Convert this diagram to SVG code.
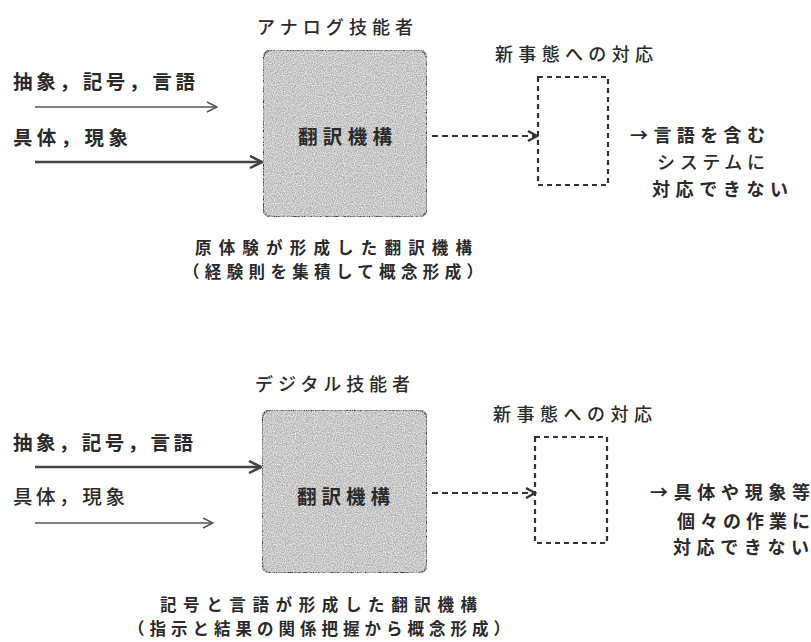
<svg xmlns="http://www.w3.org/2000/svg" width="811" height="642" viewBox="0 0 811 642">
<style>
text{font-family:"Noto Sans CJK JP","Noto Sans CJK SC",sans-serif;fill:#2a2a2a;font-size:18px;font-weight:700}
.title{font-weight:500}
.big{font-size:19.5px}
.cap{font-size:16.5px}
.box{fill:#c2c2c2;stroke:#333;stroke-width:2}
.dbox{fill:none;stroke:#333;stroke-width:2.2;stroke-dasharray:5 4}
.thin{stroke:#555;stroke-width:1.3;fill:none}
.thick{stroke:#444;stroke-width:2.6;fill:none}
.dash{stroke:#333;stroke-width:2;stroke-dasharray:6 4;fill:none}
</style>
<defs>
<marker id="open" viewBox="0 0 12 12" refX="11" refY="6" markerWidth="12" markerHeight="12" markerUnits="userSpaceOnUse" orient="auto">
<path d="M1,1 L11,6 L1,11" fill="none" stroke="#555" stroke-width="1.5"/>
</marker>
<marker id="bold" viewBox="0 0 14 14" refX="13" refY="7" markerWidth="14" markerHeight="14" markerUnits="userSpaceOnUse" orient="auto">
<path d="M1,1 L13,7 L1,13" fill="none" stroke="#444" stroke-width="2.5"/>
</marker>
<marker id="dopen" viewBox="0 0 12 12" refX="10" refY="6" markerWidth="12" markerHeight="12" markerUnits="userSpaceOnUse" orient="auto">
<path d="M1,1 L10,6 L1,11" fill="none" stroke="#333" stroke-width="2.2"/>
</marker>
<filter id="grain" x="0" y="0" width="100%" height="100%">
<feTurbulence type="fractalNoise" baseFrequency="0.8" numOctaves="2" seed="3" result="n"/>
<feColorMatrix in="n" type="matrix" values="0 0 0 0 0.35  0 0 0 0 0.35  0 0 0 0 0.35  0 0 0 2.2 -0.85" result="g"/>
<feComposite in="g" in2="SourceGraphic" operator="in" result="gi"/>
<feTurbulence type="fractalNoise" baseFrequency="0.9" numOctaves="1" seed="11" result="n2"/>
<feColorMatrix in="n2" type="matrix" values="0 0 0 0 0.95  0 0 0 0 0.95  0 0 0 0 0.95  0 0 0 2.2 -0.9" result="w"/>
<feComposite in="w" in2="SourceGraphic" operator="in" result="wi"/>
<feMerge><feMergeNode in="SourceGraphic"/><feMergeNode in="gi"/><feMergeNode in="wi"/></feMerge>
</filter>
</defs>

<g id="connectors">
<line class="thin" x1="35" y1="107" x2="217" y2="107" marker-end="url(#open)"/>
<line class="thick" x1="35" y1="162" x2="262" y2="162" marker-end="url(#bold)"/>
<line class="dash" x1="432" y1="136" x2="537" y2="136" marker-end="url(#dopen)"/>
<line class="thick" x1="35" y1="467" x2="261" y2="467" marker-end="url(#bold)"/>
<line class="thin" x1="35" y1="523" x2="213" y2="523" marker-end="url(#open)"/>
<line class="dash" x1="432" y1="493" x2="535" y2="493" marker-end="url(#dopen)"/>
</g>

<g id="analog-title"><text class="title" x="257" y="34" textLength="156">アナログ技能者</text></g>
<g id="analog-in1"><text class="big" x="13" y="89" textLength="182">抽象，記号，言語</text></g>
<g id="analog-in2"><text class="big" x="13" y="145" textLength="115">具体，現象</text></g>
<g id="analog-box">
<rect class="box" x="263" y="50" width="164" height="167" rx="9" filter="url(#grain)"/>
<text class="big" x="298" y="144" textLength="94" fill="#333">翻訳機構</text>
</g>
<g id="analog-new">
<text class="title" x="495" y="61" textLength="158">新事態への対応</text>
<rect class="dbox" x="538" y="77" width="70" height="108"/>
</g>
<g id="analog-result">
<text x="630" y="142" textLength="135">→言語を含む</text>
<text class="title" x="657" y="169" textLength="108">システムに</text>
<text x="652" y="196" textLength="136">対応できない</text>
</g>
<g id="analog-caption">
<text class="cap" x="195" y="254" textLength="277">原体験が形成した翻訳機構</text>
<text class="cap" x="183" y="278" textLength="300">（経験則を集積して概念形成）</text>
</g>

<g id="digital-title"><text class="title" x="255" y="391" textLength="155">デジタル技能者</text></g>
<g id="digital-in1"><text class="big" x="13" y="450" textLength="180">抽象，記号，言語</text></g>
<g id="digital-in2"><text class="big title" x="13" y="504" textLength="112">具体，現象</text></g>
<g id="digital-box">
<rect class="box" x="262" y="410" width="165" height="163" rx="9" filter="url(#grain)"/>
<text class="big" x="297" y="504" textLength="93" fill="#333">翻訳機構</text>
</g>
<g id="digital-new">
<text class="title" x="493" y="421" textLength="159">新事態への対応</text>
<rect class="dbox" x="535" y="437" width="72" height="106"/>
</g>
<g id="digital-result">
<text x="650" y="499" textLength="160">→具体や現象等</text>
<text x="677" y="528" textLength="133">個々の作業に</text>
<text x="673" y="554" textLength="136">対応できない</text>
</g>
<g id="digital-caption">
<text class="cap" x="160" y="611" textLength="317">記号と言語が形成した翻訳機構</text>
<text class="cap" x="128" y="635" textLength="382">（指示と結果の関係把握から概念形成）</text>
</g>
</svg>
